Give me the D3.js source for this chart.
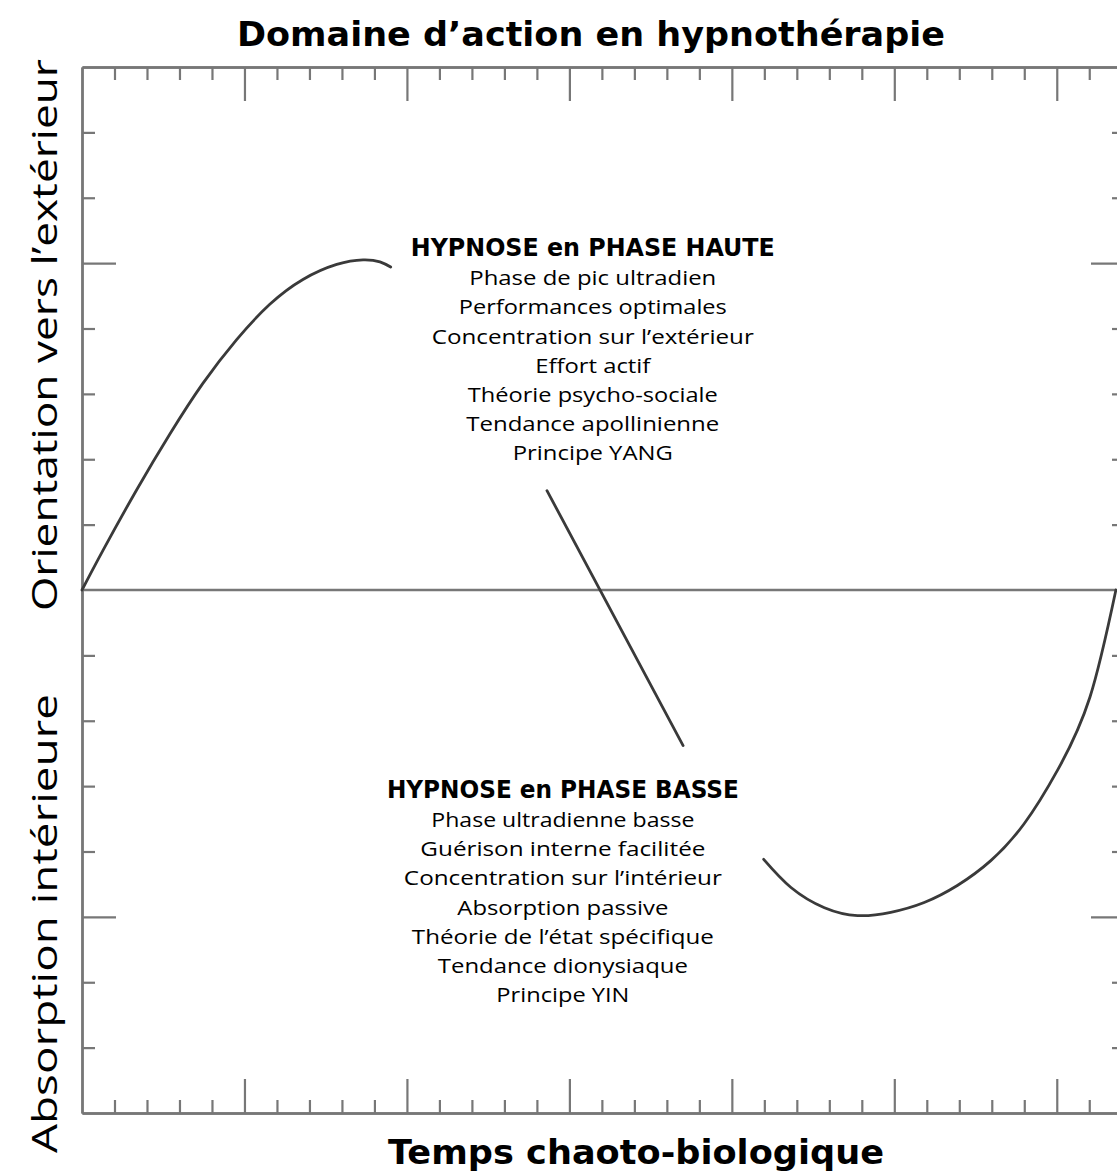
<!DOCTYPE html>
<html>
<head>
<meta charset="utf-8">
<script src="https://cdn.jsdelivr.net/npm/d3@7"></script>
<style>
  body { margin: 0; background: #fff; }
  svg { display: block; }
</style>
</head>
<body>
<script>
// curve, x in time units, y in tick units
let risingT  = [0, 0.65, 1.68, 2.71, 3.72, 4.76, 5.78, 6.80, 7.84, 8.65, 9.17, 9.50];
let risingV  = [0, 0.61, 1.53, 2.39, 3.16, 3.83, 4.37, 4.75, 4.98, 5.05, 5.02, 4.94];
let crossT   = [14.31, 18.50];
let crossV   = [1.52, -2.38];
let fallingT = [20.98, 21.82, 22.85, 23.87, 24.89, 25.92, 26.94, 27.97, 28.99, 30.02, 31.02, 31.82];
let fallingV = [-4.12, -4.55, -4.86, -4.98, -4.93, -4.78, -4.52, -4.14, -3.58, -2.76, -1.64, 0];

let xTickValues = d3.range(0, 33);
let yTickValues = [-7, -6, -5, -4, -3, -2, -1, 1, 2, 3, 4, 5, 6, 7];

let chartTitle = "Domaine d’action en hypnothérapie";
let xTitle = "Temps chaoto-biologique";
let yTitleUp = "Orientation vers l’extérieur";
let yTitleDown = "Absorption intérieure";

let highTitle = "HYPNOSE en PHASE HAUTE";
let highLines = ["Phase de pic ultradien", "Performances optimales", "Concentration sur l’extérieur",
  "Effort actif", "Théorie psycho-sociale", "Tendance apollinienne", "Principe YANG"];
let lowTitle = "HYPNOSE en PHASE BASSE";
let lowLines = ["Phase ultradienne basse", "Guérison interne facilitée", "Concentration sur l’intérieur",
  "Absorption passive", "Théorie de l’état spécifique", "Tendance dionysiaque", "Principe YIN"];

// widths measured on the reference, used to fit the fonts
let highWidths = [364, 247, 268, 322, 115, 250, 253, 160];
let lowWidths  = [352, 263, 285, 318, 211, 302, 250, 133];

let W = 1117, H = 1174;
let svg = d3.select("body").append("svg")
    .attr("width", W)
    .attr("height", H);

let x = d3.scaleLinear().domain([0, 32.1]).range([82, 1125]);
let y = d3.scaleLinear().domain([-8, 8]).range([1113, 67]);

let axisColor = "#777";
let isMajor = v => v % 5 === 0;

    // frame: each side is an axis with short and long ticks
function frameSide(axisFn, scale, values, size, transform) {
    let g = svg.append("g")
        .attr("transform", transform)
        .call(axisFn(scale)
            .tickValues(values)
            .tickSize(size)
            .tickSizeOuter(0)
            .tickFormat(""));
    g.select(".domain").attr("stroke", axisColor).attr("stroke-width", 2.4);
    g.selectAll(".tick line").attr("stroke", axisColor).attr("stroke-width", 2.2);
    return g;
}

let xMinor = xTickValues.filter(v => !isMajor(v));
let xMajor = xTickValues.filter(v => isMajor(v) && v > 0);
let yMinor = yTickValues.filter(v => !isMajor(v));
let yMajor = yTickValues.filter(v => isMajor(v));

frameSide(d3.axisBottom, x, xMinor, 13, "translate(0," + y(8) + ")");
frameSide(d3.axisBottom, x, xMajor, 34, "translate(0," + y(8) + ")");
frameSide(d3.axisTop, x, xMinor, 13, "translate(0," + y(-8) + ")");
frameSide(d3.axisTop, x, xMajor, 34, "translate(0," + y(-8) + ")");
frameSide(d3.axisRight, y, yMinor, 13, "translate(" + x(0) + ",0)");
frameSide(d3.axisRight, y, yMajor, 34, "translate(" + x(0) + ",0)");
frameSide(d3.axisLeft, y, yMinor, 13, "translate(" + x(32.1) + ",0)");
frameSide(d3.axisLeft, y, yMajor, 34, "translate(" + x(32.1) + ",0)");

    // zero line
svg.append("line")
    .attr("x1", x(0)).attr("x2", x(32.1))
    .attr("y1", y(0)).attr("y2", y(0))
    .attr("stroke", axisColor)
    .attr("stroke-width", 2.4);

    // the wave, in three pieces broken around the text blocks
let line = d3.line()
    .x(d => x(d[0]))
    .y(d => y(d[1]))
    .curve(d3.curveNatural);

[[risingT, risingV], [crossT, crossV], [fallingT, fallingV]].forEach(function(s) {
    svg.append("path")
        .datum(d3.zip(s[0], s[1]))
        .attr("d", line)
        .attr("fill", "none")
        .attr("stroke", "#3a3a3a")
        .attr("stroke-width", 2.8)
        .attr("stroke-linecap", "round");
});

    // titles
let boldFont = "'DejaVu Sans', sans-serif";
let plainFont = "'Open Sans', 'DejaVu Sans', sans-serif";

svg.append("text")
    .attr("x", 591).attr("y", 46)
    .attr("text-anchor", "middle")
    .style("font-family", boldFont)
    .style("font-weight", "bold")
    .style("font-size", "34px")
    .attr("textLength", 708)
    .attr("lengthAdjust", "spacingAndGlyphs")
    .text(chartTitle);

svg.append("text")
    .attr("x", 636).attr("y", 1164)
    .attr("text-anchor", "middle")
    .style("font-family", boldFont)
    .style("font-weight", "bold")
    .style("font-size", "34px")
    .attr("textLength", 496)
    .attr("lengthAdjust", "spacingAndGlyphs")
    .text(xTitle);

svg.append("text")
    .attr("transform", "translate(57," + y(3.9) + ") rotate(-90)")
    .attr("text-anchor", "middle")
    .style("font-family", plainFont)
    .style("font-size", "34px")
    .attr("textLength", 552)
    .attr("lengthAdjust", "spacingAndGlyphs")
    .text(yTitleUp);

svg.append("text")
    .attr("transform", "translate(57," + y(-5.1) + ") rotate(-90)")
    .attr("text-anchor", "middle")
    .style("font-family", plainFont)
    .style("font-size", "34px")
    .attr("textLength", 459)
    .attr("lengthAdjust", "spacingAndGlyphs")
    .text(yTitleDown);

    // text blocks
function block(cx, baseY, title, lines, widths) {
    let g = svg.append("g").attr("text-anchor", "middle");
    g.append("text")
        .attr("x", cx).attr("y", baseY)
        .style("font-family", boldFont)
        .style("font-weight", "bold")
        .style("font-size", "24px")
        .attr("textLength", widths[0])
        .attr("lengthAdjust", "spacingAndGlyphs")
        .text(title);
    lines.forEach(function(t, i) {
        g.append("text")
            .attr("x", cx).attr("y", baseY + 29.2 * (i + 1))
            .style("font-family", plainFont)
            .style("font-size", "20px")
            .attr("textLength", widths[i + 1])
            .attr("lengthAdjust", "spacingAndGlyphs")
            .text(t);
    });
}

block(x(15.72), y(5.11), highTitle, highLines, highWidths);
block(x(14.8), y(-3.18), lowTitle, lowLines, lowWidths);
</script>
</body>
</html>
